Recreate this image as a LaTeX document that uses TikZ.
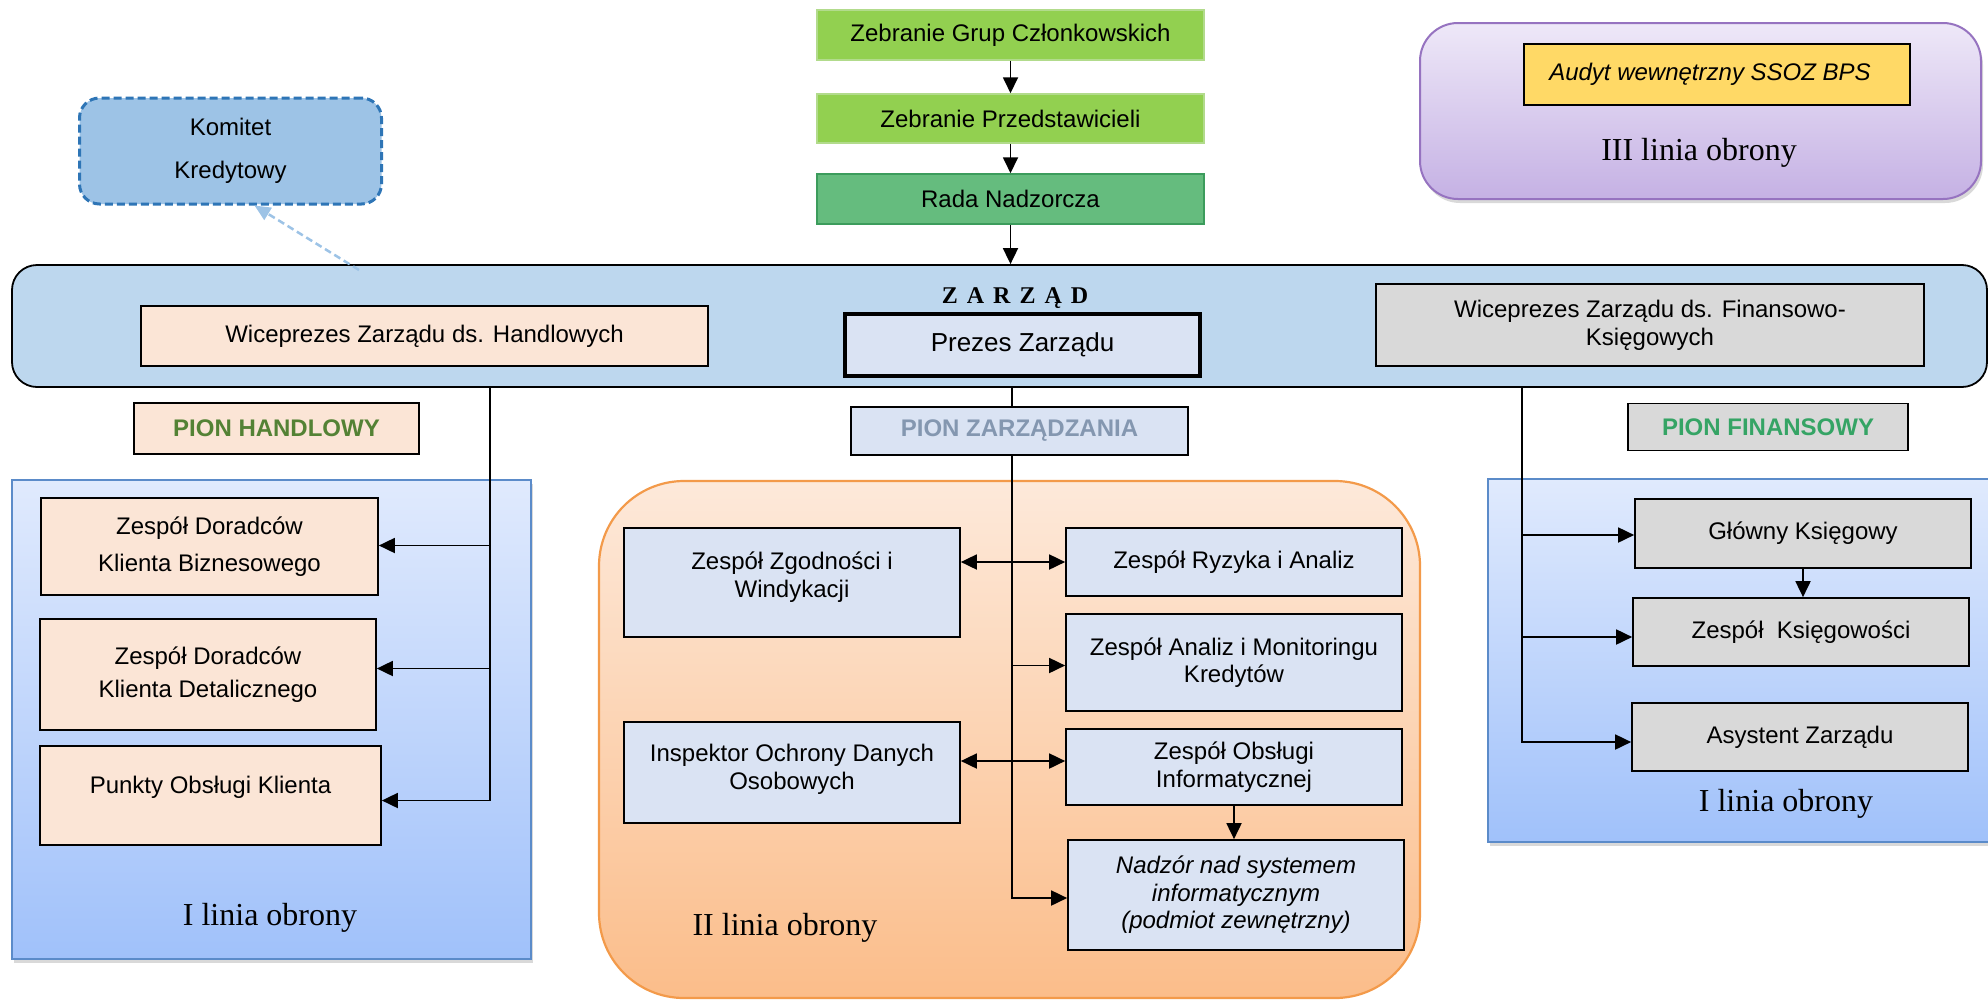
\documentclass[tikz,border=0pt]{standalone}
\usepackage{fontspec}
\setmainfont{Liberation Sans}
\newfontfamily\seriffam{Liberation Serif}
\usetikzlibrary{arrows.meta,shadows,calc}
\definecolor{zgreen}{HTML}{92D050}
\definecolor{zgreenb}{HTML}{B2DB8C}
\definecolor{rada}{HTML}{65BC7E}
\definecolor{radab}{HTML}{3C9C5C}
\definecolor{barblue}{HTML}{BDD7EE}
\definecolor{peach}{HTML}{FBE5D6}
\definecolor{grayf}{HTML}{D9D9D9}
\definecolor{paleblue}{HTML}{DAE3F3}
\definecolor{komfill}{HTML}{9DC3E6}
\definecolor{komb}{HTML}{2E75B6}
\definecolor{pItop}{HTML}{E0EAFD}
\definecolor{pIbot}{HTML}{A0C1FA}
\definecolor{pIb}{HTML}{5B8BC9}
\definecolor{pIItop}{HTML}{FDE9DA}
\definecolor{pIIbot}{HTML}{FBBD8A}
\definecolor{pIIb}{HTML}{F39A4A}
\definecolor{pIIItop}{HTML}{EEE8F8}
\definecolor{pIIIbot}{HTML}{C5B1E4}
\definecolor{pIIIb}{HTML}{9673C0}
\definecolor{audyt}{HTML}{FFD966}
\definecolor{phtext}{HTML}{548235}
\definecolor{pztext}{HTML}{8497B0}
\definecolor{pftext}{HTML}{35A465}
\begin{document}
\begin{tikzpicture}[x=1pt,y=-1pt,
  every node/.style={font=\fontsize{24}{27.6}\selectfont, align=center, inner sep=2pt},
  box/.style={draw=black, line width=1.7pt, rectangle},
  pion/.style={box, line width=1.8pt, font=\bfseries\fontsize{24}{28}\selectfont},
  linia/.style={font=\seriffam\fontsize{32}{36}\selectfont},
  conn/.style={line width=1.8pt, -{Triangle[length=16pt,width=15pt]}},
  dconn/.style={line width=1.8pt, {Triangle[length=16pt,width=15pt]}-{Triangle[length=16pt,width=15pt]}},
  plain/.style={line width=1.8pt},
  panelI/.style={rectangle, draw=pIb, line width=2pt, top color=pItop, bottom color=pIbot,
    drop shadow={shadow xshift=2pt, shadow yshift=-4pt, opacity=0.3}},
  panelII/.style={rectangle, rounded corners=85pt, draw=pIIb, line width=2.2pt, top color=pIItop, bottom color=pIIbot},
  panelIII/.style={rectangle, rounded corners=38pt, draw=pIIIb, line width=2pt, top color=pIIItop, bottom color=pIIIbot,
    drop shadow={shadow xshift=2pt, shadow yshift=-4pt, opacity=0.3}},
  komarrow/.style={draw=komfill, line width=2.5pt, dashed, dash pattern=on 7pt off 4pt, -{Triangle[length=16pt,width=14pt]}}
]
\useasboundingbox (0,0) rectangle (1988,999);
\begin{scope}
\clip (0,0) rectangle (1988,999);
% containers
\node[panelI, minimum width=519pt, minimum height=479pt] (pL) at (271.5,719.5) {};
\node[panelI, minimum width=530pt, minimum height=363pt, anchor=north west] (pR) at (1487,478) {};
\node[panelII, minimum width=821pt, minimum height=517pt] (pII) at (1009.5,739.5) {};
\node[panelIII, minimum width=561pt, minimum height=176pt] (pIII) at (1700.5,111) {};
\node[rectangle, rounded corners=25pt, draw=black, line width=1.8pt, fill=barblue, minimum width=1975pt, minimum height=122pt] (zarzad) at (999.5,326) {};
\end{scope}

% top chain
\node[box, draw=zgreenb, line width=1.5pt, fill=zgreen, minimum width=387pt, minimum height=50pt] (zgc) at (1010.5,35) {Zebranie Grup Członkowskich};
\node[box, draw=zgreenb, line width=1.5pt, fill=zgreen, minimum width=387pt, minimum height=49pt] (zp) at (1010.5,118.5) {Zebranie Przedstawicieli};
\node[box, draw=radab, line width=1.5pt, fill=rada, minimum width=387pt, minimum height=50pt] (rn) at (1010.5,199) {Rada Nadzorcza};

% komitet
\node[rectangle, rounded corners=20pt, draw=komb, line width=3pt, dashed, dash pattern=on 8pt off 4pt, fill=komfill,
  minimum width=302pt, minimum height=106pt, font=\fontsize{24}{43}\selectfont] (kom) at (230.5,151) {Komitet\\Kredytowy};

% III linia
\node[box, fill=audyt, minimum width=386pt, minimum height=61pt, font=\itshape\fontsize{24}{28}\selectfont] (aud) at (1717,74.5) {Audyt wewnętrzny SSOZ BPS\hspace{14pt}};
\node[linia] (l3) at (1699,153) {III linia obrony};

% zarzad content
\node[font=\seriffam\bfseries\fontsize{24}{28}\selectfont] (zt) at (1015,298) {Z\hspace{9pt}A\hspace{9pt}R\hspace{9pt}Z\hspace{9pt}Ą\hspace{9pt}D};
\node[box, fill=peach, minimum width=567pt, minimum height=60pt] (vph) at (424.5,336) {Wiceprezes Zarządu ds. Handlowych};
\node[box, line width=4.5pt, fill=paleblue, minimum width=355pt, minimum height=62pt, font=\fontsize{26}{30}\selectfont] (prez) at (1022.5,345) {Prezes Zarządu};
\node[box, fill=grayf, minimum width=548pt, minimum height=82pt] (vpf) at (1650,325) {Wiceprezes Zarządu ds. Finansowo-\\Księgowych};

% pion labels
\node[pion, fill=peach, text=phtext, minimum width=285pt, minimum height=51pt] (ph) at (276.5,428.5) {PION HANDLOWY};
\node[pion, fill=paleblue, text=pztext, minimum width=337pt, minimum height=48pt] (pz) at (1019.5,431) {PION ZARZĄDZANIA};
\node[pion, fill=grayf, text=pftext, minimum width=280pt, minimum height=47pt] (pf) at (1768,427) {PION FINANSOWY};

% left column
\node[box, fill=peach, minimum width=337pt, minimum height=97pt, font=\fontsize{24}{37}\selectfont] (zdkb) at (209.5,546.5) {Zespół Doradców\\Klienta Biznesowego};
\node[box, fill=peach, minimum width=336pt, minimum height=111pt, font=\fontsize{24}{33}\selectfont] (zdkd) at (208,674.5) {Zespół Doradców\\Klienta Detalicznego};
\node[box, fill=peach, minimum width=341pt, minimum height=99pt, text depth=22pt] (pok) at (210.5,795.5) {Punkty Obsługi Klienta};
\node[linia] (l1a) at (270,918) {I linia obrony};

% middle
\node[box, fill=paleblue, minimum width=336pt, minimum height=109pt, text depth=16pt] (zziw) at (792,582.5) {Zespół Zgodności i\\Windykacji};
\node[box, fill=paleblue, minimum width=336pt, minimum height=68pt] (zria) at (1234,562) {Zespół Ryzyka i Analiz};
\node[box, fill=paleblue, minimum width=336pt, minimum height=97pt] (zamk) at (1234,662.5) {Zespół Analiz i Monitoringu\\Kredytów};
\node[box, fill=paleblue, minimum width=336pt, minimum height=101pt, text depth=12pt] (iodo) at (792,772.5) {Inspektor Ochrony Danych\\Osobowych};
\node[box, fill=paleblue, minimum width=336pt, minimum height=76pt] (zoi) at (1234,767) {Zespół Obsługi\\Informatycznej};
\node[box, fill=paleblue, minimum width=336pt, minimum height=110pt, font=\itshape\fontsize{24}{27.6}\selectfont] (nadz) at (1236,895) {Nadzór nad systemem\\informatycznym\\(podmiot zewnętrzny)};
\node[linia] (l2) at (785,928) {II linia obrony};

% right column
\node[box, fill=grayf, minimum width=336pt, minimum height=69pt] (gk) at (1803,533.5) {Główny Księgowy};
\node[box, fill=grayf, minimum width=336pt, minimum height=68pt] (zk) at (1801,632) {Zespół~ Księgowości};
\node[box, fill=grayf, minimum width=336pt, minimum height=68pt] (az) at (1800,737) {Asystent Zarządu};
\node[linia] (l1b) at (1786,804) {I linia obrony};

% connectors: top chain
\draw[conn] (zgc) -- (zp);
\draw[conn] (zp) -- (rn);
\draw[conn] (rn.south) -- (rn.south |- zarzad.north);

% komitet arrow
\coordinate (ks) at (359,270);
\draw[komarrow] (ks) -- ([xshift=24pt]kom.south);

% management trunk
\coordinate (tz) at (1012,387);
\draw[plain] (tz) -- (tz |- pz.north);
\coordinate (nz) at ([yshift=-3pt]nadz.west);
\draw[conn] (tz |- pz.south) -- (tz |- nz) -- (nz);
\draw[dconn] (zziw.east |- zria.west) -- (zria.west);
\coordinate (mz) at ([yshift=-3pt]zamk.west);
\draw[conn] (tz |- mz) -- (mz);
\coordinate (ioy) at ([yshift=6pt]zoi.west);
\draw[dconn] (iodo.east |- ioy) -- (ioy);
\draw[conn] (zoi) -- (zoi |- nadz.north);

% handlowy
\coordinate (hl) at (490,387);
\coordinate (a1) at ([yshift=1pt]zdkb.east);
\coordinate (a2) at ([yshift=6pt]zdkd.east);
\coordinate (a3) at ([yshift=-5pt]pok.east);
\draw[conn] (hl) -- (hl |- a3) -- (a3);
\draw[conn] (hl |- a1) -- (a1);
\draw[conn] (hl |- a2) -- (a2);

% finansowy
\coordinate (fl) at (1522,387);
\coordinate (b1) at ([yshift=-1.5pt]gk.west);
\coordinate (b2) at ([yshift=-5pt]zk.west);
\coordinate (b3) at ([yshift=-5pt]az.west);
\draw[conn] (fl) -- (fl |- b3) -- (b3);
\draw[conn] (fl |- b1) -- (b1);
\draw[conn] (fl |- b2) -- (b2);
\draw[conn] (gk.south) -- (gk.south |- zk.north);
\end{tikzpicture}
\end{document}
